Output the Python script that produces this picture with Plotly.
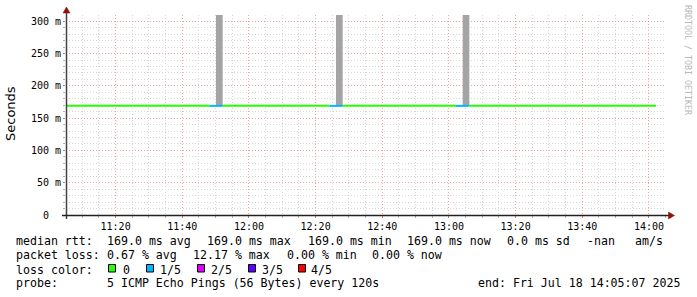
import plotly.graph_objects as go

# ---------------- data ----------------
x_start = "2025-07-18 11:05:07"
x_end = "2025-07-18 14:05:07"

# median RTT line, drawn in segments coloured by packet loss
rtt_seg_start = ["2025-07-18 11:05:07", "2025-07-18 11:48:07", "2025-07-18 11:52:07",
                 "2025-07-18 12:24:07", "2025-07-18 12:28:07", "2025-07-18 13:02:07",
                 "2025-07-18 13:06:07"]
rtt_seg_end = ["2025-07-18 11:48:07", "2025-07-18 11:52:07", "2025-07-18 12:24:07",
               "2025-07-18 12:28:07", "2025-07-18 13:02:07", "2025-07-18 13:06:07",
               "2025-07-18 14:02:07"]
rtt_seg_median = [0.169, 0.169, 0.169, 0.169, 0.169, 0.169, 0.169]
rtt_seg_loss = [0, 1, 0, 1, 0, 1, 0]

# smoke (ping spread)
smoke_time = ["2025-07-18 11:51:07", "2025-07-18 12:27:07", "2025-07-18 13:05:07"]
smoke_low = [0.169, 0.169, 0.169]
smoke_high = [0.312, 0.312, 0.312]
step_ms = 120000

y_max = 0.3097
y_tick_vals = [0, 0.05, 0.10, 0.15, 0.20, 0.25, 0.30]
y_tick_text = ["0\u00a0\u00a0", "50 m", "100 m", "150 m", "200 m", "250 m", "300 m"]

loss_labels = ["0", "1/5", "2/5", "3/5", "4/5"]
loss_colors = ["#26ff00", "#00b8ff", "#dd00ff", "#5e00ff", "#ff0000"]

median_rtt_stats = ["169.0 ms avg", "169.0 ms max", "169.0 ms min", "169.0 ms now",
                    "0.0 ms sd", "-nan", "am/s"]
packet_loss_stats = ["0.67 % avg", "12.17 % max", "0.00 % min", "0.00 % now"]
probe_text = "5 ICMP Echo Pings (56 Bytes) every 120s"
end_text = "end: Fri Jul 18 14:05:07 2025"

# ---------------- layout geometry (pixels) ----------------
WIDTH, HEIGHT = 697, 297
L, R, T, B = 66, 666, 15, 215
PW, PH = R - L, B - T


def px(x):
    return (x - L) / PW


def py(y):
    return (B - y) / PH


fig = go.Figure()

# smoke bars
fig.add_trace(go.Bar(
    x=smoke_time,
    y=[h - l for h, l in zip(smoke_high, smoke_low)],
    base=smoke_low,
    width=[step_ms] * len(smoke_time),
    marker=dict(color="#a4a4a4", line=dict(width=0)),
    showlegend=False, hoverinfo="skip",
))

# median line segments by loss colour
for lvl in sorted(set(rtt_seg_loss)):
    xs, ys = [], []
    for s, e, m, lo in zip(rtt_seg_start, rtt_seg_end, rtt_seg_median, rtt_seg_loss):
        if lo == lvl:
            xs += [s, e, None]
            ys += [m, m, None]
    fig.add_trace(go.Scatter(
        x=xs, y=ys, mode="lines",
        line=dict(color=loss_colors[lvl], width=2),
        showlegend=False, hoverinfo="skip", connectgaps=False,
    ))

MAJ_GRID = "#eca6a6"
MIN_GRID = "#d6d6d6"
DASH = "1px,2px"

fig.update_layout(
    width=WIDTH, height=HEIGHT,
    margin=dict(l=L, r=WIDTH - R, t=T, b=HEIGHT - B, pad=0),
    paper_bgcolor="white", plot_bgcolor="white",
    hovermode=False, barmode="overlay", showlegend=False,
    xaxis=dict(
        type="date", range=[x_start, x_end],
        tickmode="linear", tick0="2025-07-18 11:20:00", dtick=1200000,
        tickformat="%H:%M",
        showgrid=True, gridcolor=MAJ_GRID, griddash=DASH, gridwidth=1,
        ticks="outside", ticklen=2, tickcolor="#e07070",
        tickfont=dict(family="DejaVu Sans Mono", size=10, color="#000"),
        showline=False, zeroline=False, fixedrange=True,
        minor=dict(tickmode="linear", tick0="2025-07-18 11:20:00", dtick=300000,
                   showgrid=True, gridcolor=MIN_GRID, griddash=DASH, gridwidth=1,
                   ticks="outside", ticklen=2, tickcolor="#b0b0b0"),
    ),
    yaxis=dict(
        range=[0, y_max],
        tickmode="array", tickvals=y_tick_vals, ticktext=y_tick_text,
        showgrid=True, gridcolor=MAJ_GRID, griddash=DASH, gridwidth=1,
        ticks="outside", ticklen=2, tickcolor="#e07070",
        tickfont=dict(family="DejaVu Sans Mono", size=10, color="#000"),
        showline=False, zeroline=False, fixedrange=True,
        minor=dict(tickmode="linear", tick0=0, dtick=0.01,
                   showgrid=True, gridcolor=MIN_GRID, griddash=DASH, gridwidth=1,
                   ticks="outside", ticklen=2, tickcolor="#b0b0b0"),
    ),
)

ARROW = "#8b1010"
shapes = []
# axes
shapes.append(dict(type="line", xref="paper", yref="paper",
                   x0=px(66.5), x1=px(66.5), y0=py(219), y1=py(12),
                   line=dict(color="#404040", width=1.5), layer="above"))
shapes.append(dict(type="line", xref="paper", yref="paper",
                   x0=px(62), x1=px(669), y0=py(215.5), y1=py(215.5),
                   line=dict(color="#202020", width=1.5), layer="above"))
# axis arrows, sized in pixels
shapes.append(dict(type="path", xref="paper", yref="paper", layer="above",
                   xsizemode="pixel", ysizemode="pixel",
                   xanchor=px(66.5), yanchor=py(13),
                   path="M -3.5,0 L 3.5,0 L 0,6 Z",
                   fillcolor=ARROW, line=dict(color=ARROW, width=0.5)))
shapes.append(dict(type="path", xref="paper", yref="paper", layer="above",
                   xsizemode="pixel", ysizemode="pixel",
                   xanchor=px(668.5), yanchor=py(215.5),
                   path="M 0,-3.5 L 0,3.5 L 6,0 Z",
                   fillcolor=ARROW, line=dict(color=ARROW, width=0.5)))

# legend colour boxes
box_x = [108.5, 146.5, 197.5, 248.5, 298.5]
for bx, col in zip(box_x, loss_colors):
    shapes.append(dict(type="rect", xref="paper", yref="paper",
                       x0=px(bx), x1=px(bx + 7), y0=py(272), y1=py(264.5),
                       fillcolor=col, line=dict(color="#000", width=1)))
fig.update_layout(shapes=shapes)

MONO = "DejaVu Sans Mono"
FS = 11.6


def ann(text, x, y, size=FS, family=MONO, color="#000", angle=0, xanchor="left"):
    return dict(text=text, x=px(x), y=py(y), xref="paper", yref="paper",
                xanchor=xanchor, yanchor="middle", showarrow=False,
                font=dict(family=family, size=size, color=color),
                borderpad=0, borderwidth=0, textangle=angle)


anns = []
line_y = [241.3, 255.3, 269.6, 283.3]
anns.append(ann("median rtt:", 16, line_y[0]))
for t, x in zip(median_rtt_stats, [107.3, 207.3, 308.3, 407.3, 506.7, 587.3, 635]):
    anns.append(ann(t, x, line_y[0]))
anns.append(ann("packet loss:", 16, line_y[1]))
for t, x in zip(packet_loss_stats, [107, 193, 286.7, 372.3]):
    anns.append(ann(t, x, line_y[1]))
anns.append(ann("loss color:", 16, line_y[2]))
for t, x in zip(loss_labels, [122.7, 160.3, 211, 262, 311]):
    anns.append(ann(t, x, line_y[2]))
anns.append(ann("probe:", 16, line_y[3]))
anns.append(ann(probe_text, 107, line_y[3]))
anns.append(ann(end_text, 478.3, line_y[3]))

anns.append(ann("Seconds", 10, 114, size=13, family="DejaVu Sans", color="#000",
                angle=-90, xanchor="center"))
anns.append(ann("RRDTOOL / TOBI OETIKER", 688, 60, size=8.3, family=MONO,
                color="#b8b8b8", angle=90, xanchor="center"))
fig.update_layout(annotations=anns)

fig.write_html("out.html")
